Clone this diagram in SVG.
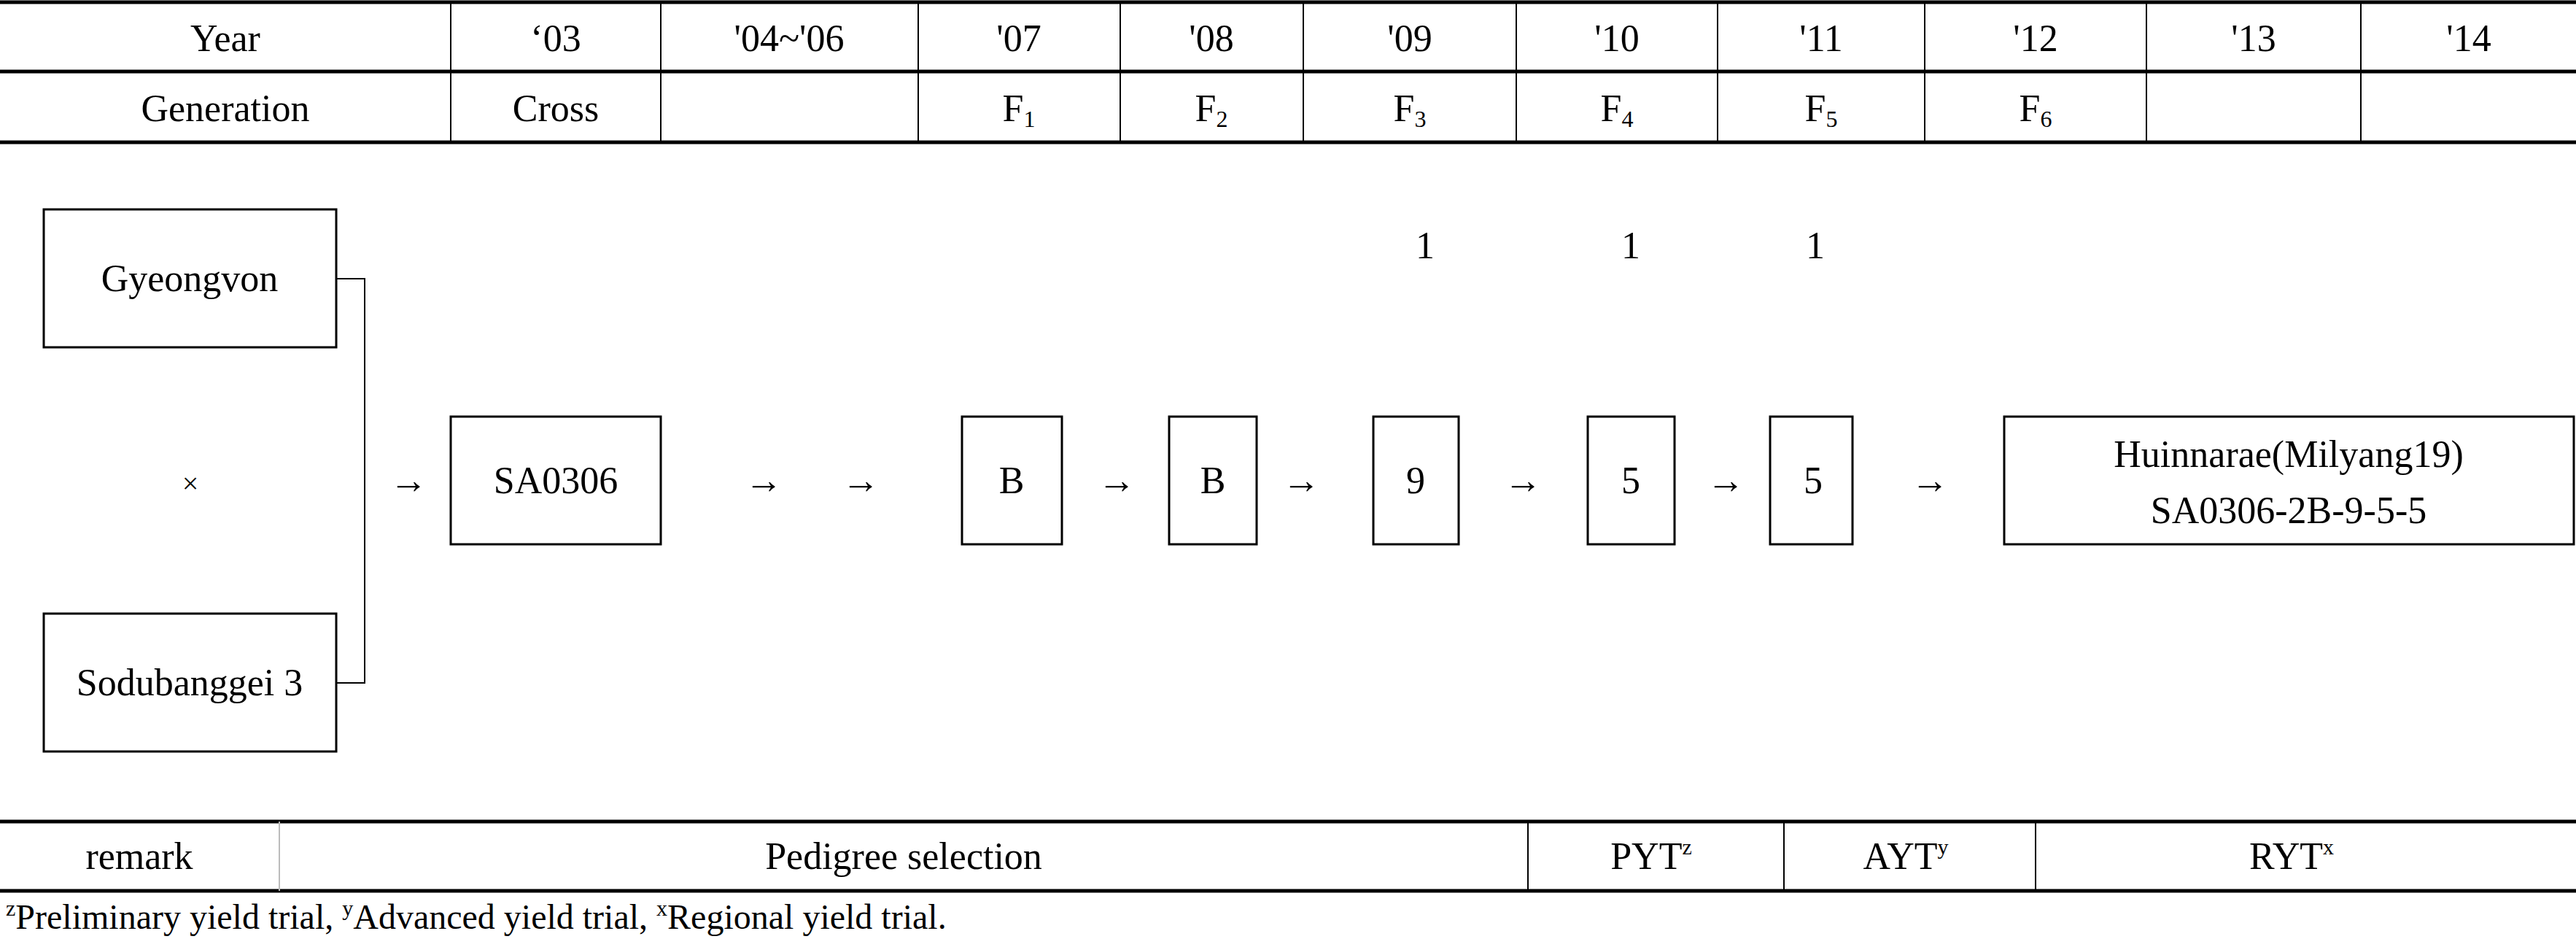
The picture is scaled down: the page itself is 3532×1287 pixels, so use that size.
<svg xmlns="http://www.w3.org/2000/svg" width="3532" height="1287" viewBox="0 0 3532 1287">
<style>
text{font-family:"Liberation Serif","Times New Roman",serif;font-size:52px;fill:#000;text-anchor:middle}
.sub{font-size:32px}
.sup{font-size:30px}
.thin{stroke:#000;stroke-width:2;fill:none}
.thick{stroke:#000;stroke-width:5;fill:none}
.box{stroke:#000;stroke-width:3;fill:#fff}
</style>
<rect width="3532" height="1287" fill="#fff"/>
<g id="header">
<line class="thick" x1="0" y1="3" x2="3532" y2="3"/>
<line class="thick" x1="0" y1="98" x2="3532" y2="98"/>
<line class="thick" x1="0" y1="195" x2="3532" y2="195"/>
<g class="thin">
<line x1="618" y1="3" x2="618" y2="195"/><line x1="906" y1="3" x2="906" y2="195"/>
<line x1="1259" y1="3" x2="1259" y2="195"/><line x1="1536" y1="3" x2="1536" y2="195"/>
<line x1="1787" y1="3" x2="1787" y2="195"/><line x1="2079" y1="3" x2="2079" y2="195"/>
<line x1="2355" y1="3" x2="2355" y2="195"/><line x1="2639" y1="3" x2="2639" y2="195"/>
<line x1="2943" y1="3" x2="2943" y2="195"/><line x1="3237" y1="3" x2="3237" y2="195"/>
</g>
<text x="309" y="70">Year</text><text x="762" y="70">‘03</text><text x="1082" y="70">'04~'06</text>
<text x="1397" y="70">'07</text><text x="1661" y="70">'08</text><text x="1933" y="70">'09</text>
<text x="2217" y="70">'10</text><text x="2497" y="70">'11</text><text x="2791" y="70">'12</text>
<text x="3090" y="70">'13</text><text x="3385" y="70">'14</text>
<text x="309" y="166">Generation</text><text x="762" y="166">Cross</text>
<text x="1397" y="166">F<tspan class="sub" dy="8">1</tspan></text>
<text x="1661" y="166">F<tspan class="sub" dy="8">2</tspan></text>
<text x="1933" y="166">F<tspan class="sub" dy="8">3</tspan></text>
<text x="2217" y="166">F<tspan class="sub" dy="8">4</tspan></text>
<text x="2497" y="166">F<tspan class="sub" dy="8">5</tspan></text>
<text x="2791" y="166">F<tspan class="sub" dy="8">6</tspan></text>
</g>
<g id="connectors">
<polyline class="thin" points="461,382 500,382 500,936 461,936" stroke-width="3"/>
<text x="560" y="676">→</text><text x="1047" y="676">→</text><text x="1180" y="676">→</text>
<text x="1531" y="676">→</text><text x="1784" y="676">→</text><text x="2088" y="676">→</text>
<text x="2366" y="676">→</text><text x="2646" y="676">→</text>
</g>
<g id="gyeongvon"><rect class="box" x="60" y="287" width="401" height="189"/><text x="260" y="399">Gyeongvon</text></g>
<g id="cross"><text x="261" y="676" style="font-size:40px">×</text></g>
<g id="sodubanggei"><rect class="box" x="60" y="841" width="401" height="189"/><text x="260" y="953">Sodubanggei  3</text></g>
<g id="sa0306"><rect class="box" x="618" y="571" width="288" height="175"/><text x="762" y="676">SA0306</text></g>
<g id="b1"><rect class="box" x="1319" y="571" width="137" height="175"/><text x="1387" y="676">B</text></g>
<g id="b2"><rect class="box" x="1603" y="571" width="120" height="175"/><text x="1663" y="676">B</text></g>
<g id="n9"><rect class="box" x="1883" y="571" width="117" height="175"/><text x="1941" y="676">9</text><text x="1954" y="354">1</text></g>
<g id="n5a"><rect class="box" x="2177" y="571" width="119" height="175"/><text x="2236" y="676">5</text><text x="2236" y="354">1</text></g>
<g id="n5b"><rect class="box" x="2427" y="571" width="113" height="175"/><text x="2486" y="676">5</text><text x="2489" y="354">1</text></g>
<g id="final"><rect class="box" x="2748" y="571" width="781" height="175"/><text x="3138" y="640">Huinnarae(Milyang19)</text><text x="3138" y="717">SA0306-2B-9-5-5</text></g>
<g id="remark">
<line class="thick" x1="0" y1="1126" x2="3532" y2="1126"/>
<line class="thick" x1="0" y1="1221" x2="3532" y2="1221"/>
<g class="thin"><line x1="383" y1="1126" x2="383" y2="1221" stroke="#bbb"/><line x1="2095" y1="1126" x2="2095" y2="1221"/><line x1="2446" y1="1126" x2="2446" y2="1221"/><line x1="2791" y1="1126" x2="2791" y2="1221"/></g>
<text x="191" y="1191">remark</text><text x="1239" y="1191">Pedigree  selection</text>
<text x="2264" y="1191">PYT<tspan class="sup" dy="-20">z</tspan></text>
<text x="2613" y="1191">AYT<tspan class="sup" dy="-20">y</tspan></text>
<text x="3142" y="1191">RYT<tspan class="sup" dy="-20">x</tspan></text>
<text x="8" y="1273" style="text-anchor:start;font-size:48px"><tspan class="sup" dy="-18">z</tspan><tspan dy="18">Preliminary  yield  trial,  </tspan><tspan class="sup" dy="-18">y</tspan><tspan dy="18">Advanced  yield  trial,  </tspan><tspan class="sup" dy="-18">x</tspan><tspan dy="18">Regional  yield  trial.</tspan></text>
</g>
</svg>
